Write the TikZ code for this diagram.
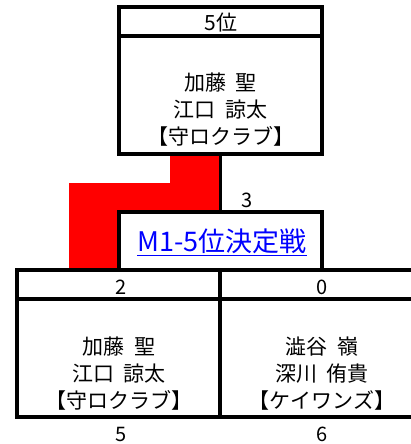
\documentclass[tikz,border=0pt]{standalone}
\usepackage{fontspec}
\setmainfont{Noto Sans CJK JP}
\newcommand{\jsp}{\hspace{0.45em}}
\begin{document}
\begin{tikzpicture}[x=1pt,y=-1pt,
  box/.style={draw=black,line width=3.2pt,fill=white,inner sep=0pt,minimum width=203pt},
  names/.style={align=center,font=\fontsize{21}{27}\selectfont,inner sep=0pt},
  score/.style={font=\fontsize{20}{22}\selectfont,inner sep=0pt},
  hdr/.style={line width=3.2pt}]
\clip (0,0) rectangle (411,444);
\fill[white] (0,0) rectangle (411,444);
% winner path (red)
\fill[red] (69,183) rectangle (219,270);
\fill[red] (170,155) rectangle (219,183);
% top box
\node[box,minimum height=147pt] (top) at (220.5,80.5) {};
\draw[hdr] (119,36) -- (322,36);
\node[score,font=\fontsize{21}{22}\selectfont] (rank) at (221,23) {5位};
\node[names] (topnames) at (220.5,110) {加藤\jsp 聖\\江口\jsp 諒太\\【守ロクラブ】};
% match box
\node[box,minimum height=58pt] (m1) at (220.5,241) {};
\draw[line width=2.4pt] (top.south) -- (m1.north);
\node[score] (s3) at (247,200) {3};
\node[inner sep=0pt,text=blue,font=\fontsize{27}{28}\selectfont] (m1t) at (222,242) {\underline{M1-5位決定戦}};
% bottom boxes
\node[box,minimum height=147pt] (bl) at (118.5,343.5) {};
\node[box,minimum height=147pt] (br) at (321.5,343.5) {};
\draw[hdr] (17,299) -- (424,299);
\node[score] (s2) at (121,287) {2};
\node[score] (s0) at (322,287) {0};
\node[names] (blnames) at (119,374) {加藤\jsp 聖\\江口\jsp 諒太\\【守ロクラブ】};
\node[names] (brnames) at (322,374) {澁谷\jsp 嶺\\深川\jsp 侑貴\\【ケイワンズ】};
\node[score] (s5) at (121,434) {5};
\node[score] (s6) at (322,434) {6};
\end{tikzpicture}
\end{document}
